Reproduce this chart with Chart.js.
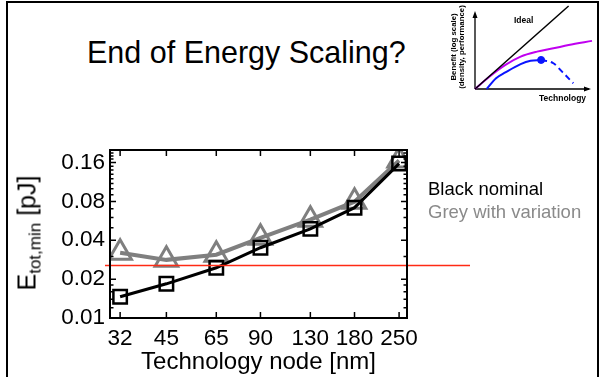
<!DOCTYPE html>
<html>
<head>
<meta charset="utf-8">
<script src="https://cdn.jsdelivr.net/npm/chart.js@4.4.1/dist/chart.umd.min.js"></script>
<style>
  html, body { margin: 0; padding: 0; background: #fff; }
  body { width: 599px; height: 377px; position: relative; overflow: hidden;
         font-family: "Liberation Sans", Arial, Helvetica, sans-serif; }
  .frame { position: absolute; left: 6px; top: 1px; width: 589px; height: 400px;
           border: 2px solid #000; border-bottom: none; }
  .slide-title { position: absolute; left: 87px; top: 35px; font-size: 30.5px; color: #000; white-space: nowrap; }
  #main-chart { position: absolute; left: 0; top: 130px; }
  #inset-chart { position: absolute; left: 440px; top: 0; }
  .ytitle { position: absolute; left: 29px; top: 233px; font-size: 25px; white-space: nowrap; line-height: 1;
            transform: translate(-50%, -50%) rotate(-90deg); }
  .ytitle sub { font-size: 17px; vertical-align: -5px; }
  .note { position: absolute; left: 428px; font-size: 18.5px; white-space: nowrap; }
  .inset-txt { position: absolute; font-weight: bold; white-space: nowrap; color: #000; }
</style>
</head>
<body>
<div class="frame"></div>
<div class="slide-title">End of Energy Scaling?</div>
<canvas id="main-chart" width="599" height="247"></canvas>
<canvas id="inset-chart" width="157" height="107"></canvas>
<div class="ytitle">E<sub>tot,min</sub> [pJ]</div>
<div class="note" style="top:178px;color:#000;">Black nominal</div>
<div class="note" style="top:201px;color:#8a8a8a;">Grey with variation</div>
<div class="inset-txt" style="left:514px;top:15px;font-size:8.5px;">Ideal</div>
<div class="inset-txt" style="left:539px;top:93px;font-size:8.5px;">Technology</div>
<div class="inset-txt" style="left:458px;top:47px;font-size:7.8px;line-height:8px;text-align:center;transform:translate(-50%,-50%) rotate(-90deg);">Benefit (log scale)<br>(density, performance)</div>
<script>
// main chart data
const nodes = [32, 45, 65, 90, 130, 180, 250];
const nominal = [0.0146, 0.0184, 0.0245, 0.035, 0.049, 0.0715, 0.157];
const withVariation = [0.032, 0.0282, 0.0309, 0.0418, 0.0577, 0.0796, 0.166];
const yTicks = [0.01, 0.02, 0.04, 0.08, 0.16];
const yMinorTicks = [0.012, 0.014, 0.016, 0.018, 0.03, 0.05, 0.06, 0.07, 0.09, 0.1,
  0.11, 0.12, 0.13, 0.14, 0.15, 0.17, 0.18, 0.19];
const limitLevel = [0.0255];

// inset sketch data
const idealX = [0, 8];
const idealY = [0, 10];
const realX = [0, 1.2, 2.6, 3.9, 5.3, 6.7, 8.0, 10];
const realY = [0, 1.45, 2.9, 3.9, 4.5, 4.9, 5.3, 5.8];
const peakX = [1.0, 1.8, 2.6, 3.9, 4.75, 5.65];
const peakY = [0, 1.3, 2.0, 3.0, 3.4, 3.5];
const fallX = [5.65, 6.7, 7.5, 8.4];
const fallY = [3.5, 3.1, 2.0, 0.7];

const toPoints = (xs, ys) => xs.map((x, i) => ({ x: x, y: ys[i] }));

/* // box, inward ticks and the red reference line */
const frameTicks = {
  id: "frameTicks",
  afterDatasetsDraw(chart) {
    const ctx = chart.ctx;
    const { left, right, top, bottom } = chart.chartArea;
    const xs = chart.scales.x;
    const ys = chart.scales.y;
    ctx.save();

    // red line
    const ry = ys.getPixelForValue(limitLevel[0]);
    ctx.strokeStyle = "#ff2a14";
    ctx.lineWidth = 1.6;
    ctx.beginPath();
    ctx.moveTo(left - 5, ry);
    ctx.lineTo(right + 63, ry);
    ctx.stroke();

    ctx.strokeStyle = "#000";
    ctx.lineWidth = 2;
    ctx.strokeRect(left, top, right - left, bottom - top);

    ctx.lineWidth = 1.5;
    ctx.beginPath();
    nodes.forEach(n => {
      const px = xs.getPixelForValue(n);
      ctx.moveTo(px, bottom); ctx.lineTo(px, bottom - 6);
      ctx.moveTo(px, top); ctx.lineTo(px, top + 6);
    });
    yTicks.forEach(v => {
      const py = ys.getPixelForValue(v);
      ctx.moveTo(left, py); ctx.lineTo(left + 6, py);
      ctx.moveTo(right, py); ctx.lineTo(right - 6, py);
    });
    yMinorTicks.forEach(v => {
      const py = ys.getPixelForValue(v);
      ctx.moveTo(left, py); ctx.lineTo(left + 3.5, py);
      ctx.moveTo(right, py); ctx.lineTo(right - 3.5, py);
    });
    ctx.stroke();
    ctx.restore();
  }
};

new Chart(document.getElementById("main-chart").getContext("2d"), {
  type: "line",
  data: {
    datasets: [
      {
        label: "Black nominal",
        data: toPoints(nodes, nominal),
        borderColor: "#000",
        borderWidth: 3,
        pointStyle: "rect",
        pointRadius: 9.5,
        pointBorderWidth: 2.5,
        pointBorderColor: "#000",
        pointBackgroundColor: "rgba(0,0,0,0)",
      },
      {
        label: "Grey with variation",
        data: toPoints(nodes, withVariation),
        borderColor: "#7f7f7f",
        borderWidth: 4,
        pointStyle: "triangle",
        pointRadius: 13,
        pointBorderWidth: 3,
        pointBorderColor: "#7f7f7f",
        pointBackgroundColor: "rgba(0,0,0,0)",
      },
    ],
  },
  options: {
    responsive: false,
    animation: false,
    layout: { padding: { left: 0, top: 20, right: 192, bottom: 0 } },
    plugins: { legend: { display: false }, tooltip: { enabled: false } },
    scales: {
      x: {
        type: "logarithmic",
        min: 29.7,
        max: 265,
        grid: { display: false, drawTicks: false },
        border: { display: false },
        afterBuildTicks: (scale) => { scale.ticks = nodes.map(v => ({ value: v })); },
        afterFit: (scale) => { scale.height = 59; },
        ticks: {
          autoSkip: false, maxRotation: 0, padding: 7, color: "#000",
          font: { family: "'Liberation Sans', Arial", size: 22.5 },
          callback: (v) => String(v),
        },
        title: {
          display: true, text: "Technology node [nm]", color: "#000",
          font: { family: "'Liberation Sans', Arial", size: 24 },
          padding: { top: 0, bottom: 0 },
        },
      },
      y: {
        type: "logarithmic",
        min: 0.01,
        max: 0.2,
        grid: { display: false, drawTicks: false },
        border: { display: false },
        afterBuildTicks: (scale) => { scale.ticks = yTicks.map(v => ({ value: v })); },
        afterFit: (scale) => { scale.width = 110; },
        ticks: {
          padding: 5, color: "#000",
          font: { family: "'Liberation Sans', Arial", size: 22.5 },
          callback: (v) => String(v),
        },
      },
    },
  },
  plugins: [frameTicks],
});

/* // axes with arrow heads for the inset sketch */
const sketchAxes = {
  id: "sketchAxes",
  beforeDatasetsDraw(chart) {
    const ctx = chart.ctx;
    const { left, right, bottom } = chart.chartArea;
    ctx.save();
    ctx.strokeStyle = "#000";
    ctx.fillStyle = "#000";
    ctx.lineWidth = 1.3;
    ctx.beginPath();
    ctx.moveTo(left, bottom); ctx.lineTo(left, 15);
    ctx.moveTo(left, bottom); ctx.lineTo(right - 3, bottom);
    ctx.stroke();
    ctx.beginPath();
    ctx.moveTo(left, 11); ctx.lineTo(left - 2.5, 18); ctx.lineTo(left + 2.5, 18); ctx.closePath();
    ctx.moveTo(right - 1, bottom); ctx.lineTo(right - 8, bottom - 2.5); ctx.lineTo(right - 8, bottom + 2.5); ctx.closePath();
    ctx.fill();
    ctx.restore();
  }
};

new Chart(document.getElementById("inset-chart").getContext("2d"), {
  type: "line",
  data: {
    datasets: [
      { data: toPoints(idealX, idealY), borderColor: "#000", borderWidth: 1.5, pointRadius: 0 },
      { data: toPoints(realX, realY), borderColor: "#c000f0", borderWidth: 2, pointRadius: 0, cubicInterpolationMode: "monotone" },
      { data: toPoints(peakX, peakY), borderColor: "#0a14ff", borderWidth: 2, pointRadius: 0, cubicInterpolationMode: "monotone" },
      { data: toPoints(fallX, fallY), borderColor: "#0a14ff", borderWidth: 2, borderDash: [6, 4], pointRadius: 0, cubicInterpolationMode: "monotone" },
      { data: toPoints([peakX[peakX.length - 1]], [peakY[peakY.length - 1]]), borderColor: "#0a14ff", backgroundColor: "#0a14ff", pointRadius: 3.5, showLine: false },
    ],
  },
  options: {
    responsive: false,
    animation: false,
    clip: false,
    layout: { padding: { left: 35, top: 6, right: 0, bottom: 18 } },
    plugins: { legend: { display: false }, tooltip: { enabled: false } },
    scales: {
      x: { type: "linear", min: 0, max: 10, display: false },
      y: { type: "linear", min: 0, max: 10, display: false },
    },
  },
  plugins: [sketchAxes],
});
</script>
</body>
</html>
